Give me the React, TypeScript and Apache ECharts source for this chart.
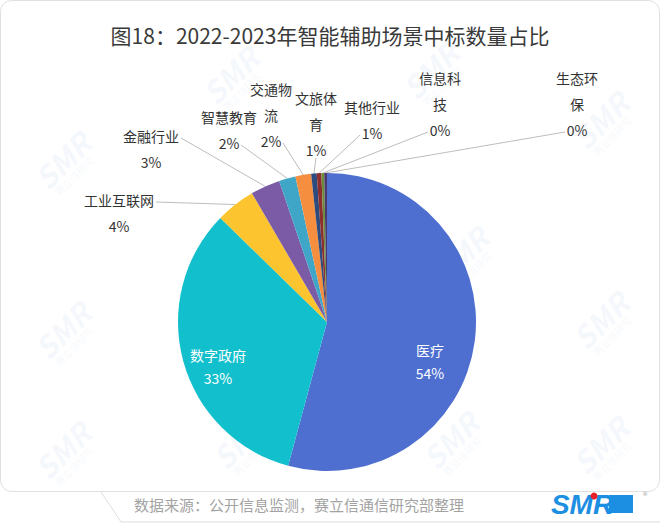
import React, { useEffect, useRef } from 'react';
import * as echarts from 'echarts';

const categories = ['医疗', '数字政府', '工业互联网', '金融行业', '智慧教育', '交通物流', '文旅体育', '其他行业', '信息科技', '生态环保'];
const labelNames = ['医疗', '数字政府', '工业互联网', '金融行业', '智慧教育', '交通物\n流', '文旅体\n育', '其他行业', '信息科\n技', '生态环\n保'];
const values = [54.2, 33.1, 4.3, 3.2, 1.8, 1.7, 0.6, 0.5, 0.3, 0.3];
const colors = ['#4e6fd0', '#12bfcd', '#fcc42e', '#7b5ba6', '#40a6c8', '#f58f3f', '#2e4b7d', '#8c2e2e', '#6c8e3c', '#4a3b6c'];
const titleText = '图18：2022-2023年智能辅助场景中标数量占比';
const sourceText = '数据来源：公开信息监测，赛立信通信研究部整理';

// label placement (layout, not data): centre of label block, and where the leader line meets the label
// anchor: 'firstRight' | 'lastRight' | 'lastLeft' | 'below' | 'none'
const labelPos: [number, number, string][] = [
  [430, 361, 'none'], [218, 366, 'none'], [119, 213, 'firstRight'], [151, 149, 'firstRight'], [229, 130, 'lastRight'],
  [271, 115, 'lastRight'], [316, 124, 'below'], [372, 120, 'lastLeft'], [440, 104, 'lastLeft'], [577, 104, 'lastLeft'],
];
const LINE_H = 26;

const FONT = '"Noto Sans CJK SC", "Noto Sans", sans-serif';

export default function App() {
  const ref = useRef<HTMLDivElement>(null);
  useEffect(() => {
    document.body.style.margin = '0';
    const chart = echarts.init(ref.current!, null, { renderer: 'svg' });

    const watermarks: any[] = [];
    const wmPos = [[62, 160], [230, 75], [430, 70], [600, 120], [62, 330], [240, 265], [460, 255], [600, 320], [62, 450], [240, 440], [450, 440], [600, 445]];
    wmPos.forEach(([x, y]) => {
      watermarks.push({
        type: 'text', x, y, rotation: Math.PI / 4, z: -10,
        style: { text: 'SMR', fill: 'rgba(170,195,225,0.13)', font: `bold italic 30px ${FONT}`, textAlign: 'center', textVerticalAlign: 'middle' },
      });
      watermarks.push({
        type: 'text', x: x + 12, y: y + 16, rotation: Math.PI / 4, z: -10,
        style: { text: '赛立信研究', fill: 'rgba(170,195,225,0.13)', font: `10px ${FONT}`, textAlign: 'center', textVerticalAlign: 'middle' },
      });
    });

    chart.setOption({
      animation: false,
      backgroundColor: '#ffffff',
      title: {
        text: titleText,
        left: 'center',
        top: 19,
        textStyle: { fontSize: 21, fontWeight: 'normal', color: '#3a3a3a', fontFamily: FONT },
      },
      graphic: [
        ...watermarks,
        {
          type: 'rect', z: -5,
          shape: { x: 0.5, y: 0.5, width: 659, height: 491, r: 11 },
          style: { fill: 'none', stroke: '#e0e0e0', lineWidth: 1 },
        },
        {
          type: 'polyline', z: -5,
          shape: { points: [[101, 492], [121, 522], [660, 522]] },
          style: { fill: 'none', stroke: '#dddddd', lineWidth: 1 },
        },
        {
          type: 'text', x: 299, y: 504,
          style: { text: sourceText, fill: '#a3a3a3', font: `15px ${FONT}`, textAlign: 'center', textVerticalAlign: 'middle' },
        },
        {
          type: 'text', x: 582, y: 504,
          style: { text: 'SMR', fill: '#1c8fe3', font: `bold italic 28px "Liberation Sans", sans-serif`, textAlign: 'center', textVerticalAlign: 'middle' },
        },
        { type: 'circle', shape: { cx: 594, cy: 496, r: 3.5 }, style: { fill: '#e8202a' } },
        { type: 'rect', shape: { x: 609, y: 495, width: 24, height: 18 }, style: { fill: '#1c8fe3' } },
        {
          type: 'text', x: 645, y: 495,
          style: { text: '®', fill: '#aaaaaa', font: `9px ${FONT}`, textAlign: 'center', textVerticalAlign: 'middle' },
        },
      ],
      series: [
        {
          type: 'pie',
          center: [327, 322],
          radius: [0, 149],
          startAngle: 90,
          clockwise: true,
          avoidLabelOverlap: false,
          color: colors,
          itemStyle: { borderWidth: 0 },
          label: {
            show: true,
            position: 'outside',
            color: '#333333',
            fontSize: 14,
            fontFamily: FONT,
            lineHeight: LINE_H,
            align: 'center',
            formatter: (p: any) => `${labelNames[p.dataIndex]}\n${Math.round(p.value)}%`,
          },
          labelLine: { show: true, lineStyle: { color: '#bdbdbd', width: 1 } },
          labelLayout: (p: any) => {
            const [x, y, anchor] = labelPos[p.dataIndex];
            const res: any = { x, y, align: 'center', verticalAlign: 'middle' };
            const h = p.labelRect ? p.labelRect.height : LINE_H * 2;
            const w = p.labelRect ? p.labelRect.width : 60;
            const top = y - h / 2;
            const firstY = top + LINE_H / 2;
            const lastY = y + h / 2 - LINE_H / 2;
            let end: number[] | null = null;
            if (anchor === 'firstRight') end = [x + w / 2 + 2, firstY + 2];
            else if (anchor === 'lastRight') end = [x + 12, lastY + 2];
            else if (anchor === 'lastLeft') end = [x - 12, lastY + 2];
            else if (anchor === 'below') end = [x, lastY + 8];
            const pts = p.labelLinePoints;
            if (end && pts && pts.length) {
              res.labelLinePoints = [[pts[0][0], pts[0][1]], end];
            }
            return res;
          },
          data: categories.map((name, i) => {
            const item: any = { name, value: values[i] };
            if (i < 2) {
              item.label = { color: '#ffffff', lineHeight: 23 };
              item.labelLine = { show: false };
            }
            return item;
          }),
        },
      ],
    });
    return () => chart.dispose();
  }, []);
  return <div ref={ref} style={{ width: 660, height: 525 }} />;
}
